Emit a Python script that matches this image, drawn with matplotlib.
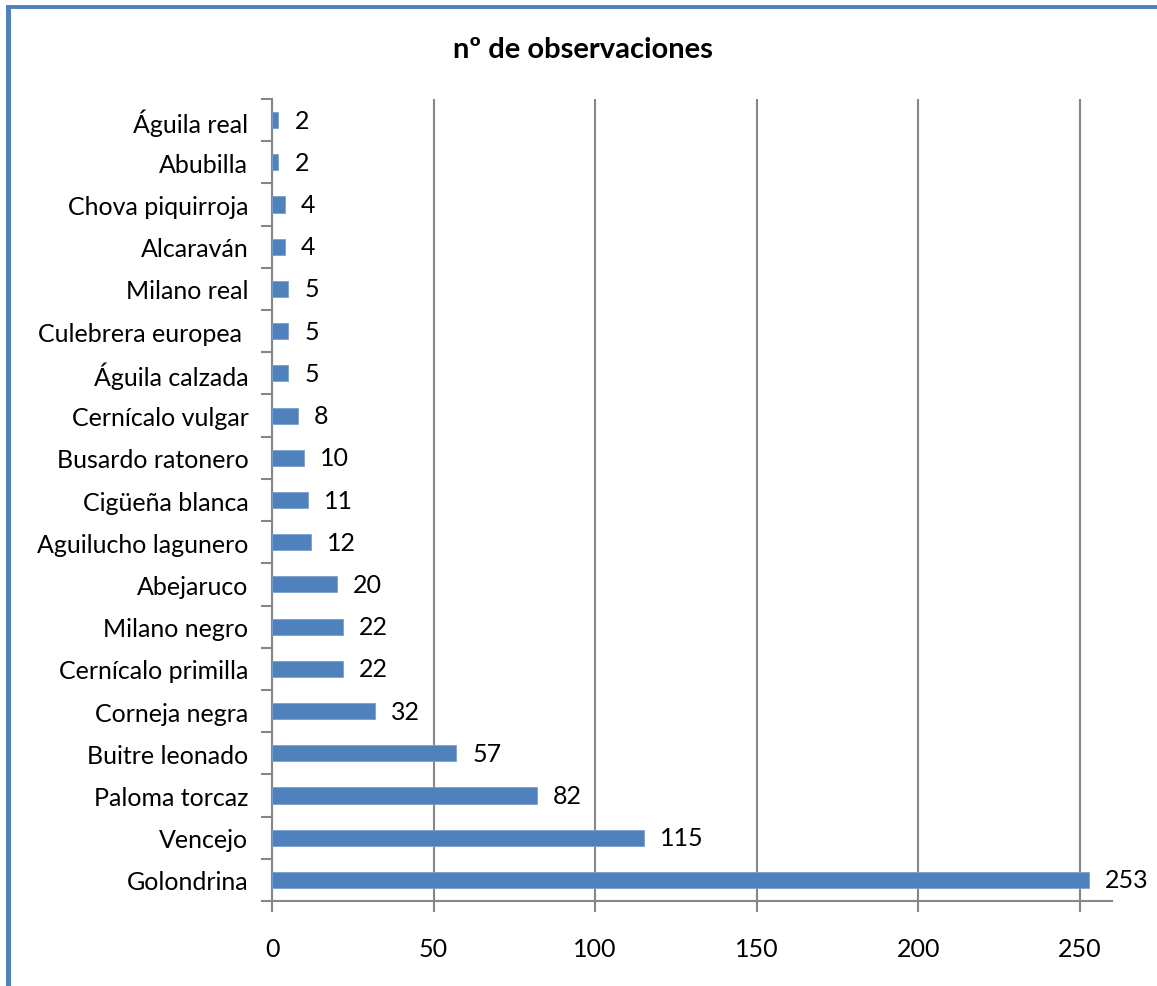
import matplotlib
matplotlib.use("Agg")
import matplotlib.pyplot as plt
from matplotlib.lines import Line2D

especies = ["Golondrina", "Vencejo", "Paloma torcaz", "Buitre leonado", "Corneja negra",
            "Cernícalo primilla", "Milano negro", "Abejaruco", "Aguilucho lagunero",
            "Cigüeña blanca", "Busardo ratonero", "Cernícalo vulgar", "Águila calzada",
            "Culebrera europea ", "Milano real", "Alcaraván", "Chova piquirroja",
            "Abubilla", "Águila real"]
observaciones = [253, 115, 82, 57, 32, 22, 22, 20, 12, 11, 10, 8, 5, 5, 5, 4, 4, 2, 2]

azul = "#4F81BD"
gris = "#868686"

plt.rcParams["font.family"] = ["Lato", "DejaVu Sans"]

fig = plt.figure(figsize=(11.57, 9.87), dpi=100)
ax = fig.add_axes([0.2351, 0.0861, 0.9611 - 0.2351, 0.8987 - 0.0861])

pos = list(range(len(especies)))
ax.barh(pos, observaciones, height=0.38, color=azul, edgecolor="#7BA0CD", linewidth=0.6, zorder=3)
for p, v in zip(pos, observaciones):
    ax.annotate(str(v), (v, p), xytext=(11.5, 0), textcoords="offset points",
                va="center", ha="left", fontsize=18, color="black")

ax.set_xlim(0, 260)
ax.set_ylim(-0.5, len(especies) - 0.5)
ax.set_xticks([0, 50, 100, 150, 200, 250])
ax.set_yticks([p - 0.5 for p in pos] + [len(especies) - 0.5])
ax.set_yticklabels([])
ax.set_yticks(pos, minor=True)
ax.set_yticklabels(especies, minor=True)
ax.tick_params(axis="y", which="minor", length=0, pad=17, labelsize=18)
ax.tick_params(axis="y", which="major", length=8, width=1.5, color=gris)
ax.tick_params(axis="x", length=8, width=1.5, color=gris, pad=18, labelsize=18)

ax.grid(axis="x", color=gris, linewidth=1.5, zorder=0)
for s in ["top", "right"]:
    ax.spines[s].set_visible(False)
for s in ["left", "bottom"]:
    ax.spines[s].set_color(gris)
    ax.spines[s].set_linewidth(1.5)

fig.text(0.504, 0.949, "nº de observaciones", ha="center", va="center",
         fontsize=21, fontweight="bold")

# marco azul del gráfico
fig.add_artist(Line2D([0.0073, 0.0073], [0, 0.992], color=azul, linewidth=3.6,
                      transform=fig.transFigure, solid_capstyle="butt"))
fig.add_artist(Line2D([0.0052, 1.0], [0.9914, 0.9914], color=azul, linewidth=2.8,
                      transform=fig.transFigure, solid_capstyle="butt"))

fig.savefig("out.png", dpi=100)
